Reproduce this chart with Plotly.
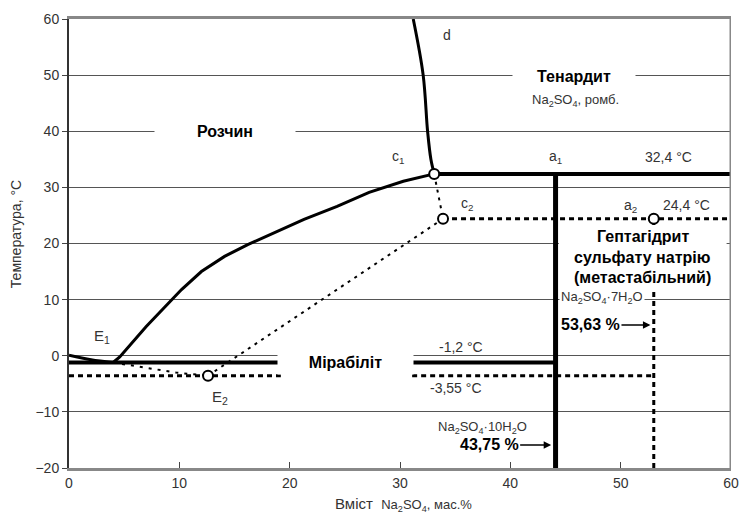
import plotly.graph_objects as go

# ---------------- data ----------------
# ice crystallisation curve (0 % -> eutectic E1)
ice_x = [0.0, 2.0, 4.0]
ice_t = [0.1, -0.7, -1.2]

# mirabilite (Na2SO4*10H2O) solubility curve, E1 -> c1
mir_x = [4.0, 4.6, 7.0, 9.3, 10.2, 12.0, 14.1, 16.2, 18.3, 21.3, 24.3, 27.2, 30.3, 33.1]
mir_t = [-1.2, -0.2, 5.2, 10.0, 11.8, 15.0, 17.7, 19.8, 21.6, 24.3, 26.6, 29.1, 31.1, 32.4]

# thenardite solubility curve, c1 -> d
then_x = [33.1, 32.8, 32.5, 32.1, 31.2]
then_t = [32.4, 35.0, 40.0, 50.0, 60.0]

# metastable ice curve E1 -> E2
meta_ice_x = [4.0, 6.4, 9.7, 12.6]
meta_ice_t = [-1.2, -2.0, -3.0, -3.55]

# key temperatures and compositions
T_c1 = 32.4      # transition mirabilite -> thenardite
T_c2 = 24.4      # metastable heptahydrate transition
T_E1 = -1.2      # eutectic E1
T_E2 = -3.55     # metastable eutectic E2
x_c1, x_c2 = 33.1, 33.9
x_E2 = 12.6
x_deca = 44.1    # Na2SO4*10H2O
x_hepta = 53.0   # Na2SO4*7H2O
gap_l, gap_r = 19.2, 31.1   # break of the lines around the "Мірабіліт" label
x_max, t_min = 60.0, -20.0

x_ticks = [0, 10, 20, 30, 40, 50, 60]
y_ticks = [-20, -10, 0, 10, 20, 30, 40, 50, 60]

# ---------------- figure ----------------
fig = go.Figure()
BLK = "black"

def line(x, y, width, dash="solid", color=BLK, shape="linear"):
    fig.add_trace(go.Scatter(x=x, y=y, mode="lines", showlegend=False, hoverinfo="skip",
                             line=dict(color=color, width=width, dash=dash, shape=shape)))

# solid phase-boundary curves
line(ice_x, ice_t, 3, shape="spline")
line(mir_x, mir_t, 3)
line(then_x, then_t, 3, shape="spline")
line([x_c1, x_max], [T_c1, T_c1], 4)
line([x_deca, x_deca], [t_min, T_c1], 5)
line([0, gap_l, None, gap_r, x_deca], [T_E1, T_E1, None, T_E1, T_E1], 4)

# metastable (dotted) lines
line([0, gap_l, None, gap_r, x_hepta], [T_E2, T_E2, None, T_E2, T_E2], 3, "5px,4px")
line([x_c2, x_max], [T_c2, T_c2], 3, "5px,4px")
line([x_hepta, x_hepta], [t_min, T_c2], 3, "5px,4px")
line(meta_ice_x, meta_ice_t, 2, "3px,6px")
line([x_E2, x_c2], [T_E2, T_c2], 2, "3px,5px")
line([x_c1, x_c2], [T_c1, T_c2], 2, "3px,5px")

# points
fig.add_trace(go.Scatter(x=[x_c1, x_c2, x_E2, x_hepta], y=[T_c1, T_c2, T_E2, T_c2],
                         mode="markers", showlegend=False, hoverinfo="skip",
                         marker=dict(symbol="circle", size=10, color="white",
                                     line=dict(color=BLK, width=2))))

# right border
fig.add_shape(type="line", xref="x", yref="paper", x0=60, x1=60, y0=0, y1=1,
              line=dict(color="#888", width=3), layer="above")

# white box behind the heptahydrate label
fig.add_shape(type="rect", xref="x", yref="y", x0=44.4, x1=59.6, y0=11.9, y1=23.1,
              fillcolor="white", line=dict(width=0), layer="above")

FONT = "Liberation Sans, Arial, sans-serif"
ann = []

def txt(x, y, s, size=13, bold=False, color="#333", **kw):
    if bold:
        s = "<b>" + s + "</b>"
    d = dict(x=x, y=y, xref="x", yref="y", text=s, showarrow=False,
             font=dict(family=FONT, size=size, color=color))
    d.update(kw)
    ann.append(d)

txt(14.1, 40.0, "Розчин", 16, True, "black", bgcolor="white", width=138, height=18)
txt(45.75, 49.9, "Тенардит", 16, True, "black", bgcolor="white", width=120, height=18)
txt(45.9, 45.4, "Na<sub>2</sub>SO<sub>4</sub>, ромб.", 13)
txt(25.1, -1.1, "Мірабіліт", 16, True, "black", bgcolor="white", width=133, height=22)
txt(34.3, 57.1, "d", 14)
txt(29.8, 35.4, "c<sub>1</sub>", 14)
txt(44.1, 35.5, "a<sub>1</sub>", 14)
txt(54.3, 35.5, "32,4 °C", 14)
txt(36.1, 27.0, "c<sub>2</sub>", 14)
txt(50.9, 26.7, "a<sub>2</sub>", 14)
txt(56.0, 26.8, "24,4 °C", 14)
txt(52.0, 21.25, "Гептагідрит", 16, True, "black")
txt(52.0, 17.5, "сульфату натрію", 16, True, "black")
txt(52.0, 13.9, "(метастабільний)", 16, True, "black")
txt(44.4, 10.3, "Na<sub>2</sub>SO<sub>4</sub>·7H<sub>2</sub>O", 13, xanchor="left",
    bgcolor="white", height=15)
txt(3.0, 3.4, "E<sub>1</sub>", 15)
txt(13.7, -7.5, "E<sub>2</sub>", 15)
txt(35.5, 1.6, "-1,2 °C", 14)
txt(35.1, -5.7, "-3,55 °C", 14)
txt(37.5, -12.7, "Na<sub>2</sub>SO<sub>4</sub>·10H<sub>2</sub>O", 13)

# arrows with percentages
ann.append(dict(x=52.7, y=5.5, xref="x", yref="y", text="<b>53,63 %</b>",
                showarrow=True, arrowhead=2, arrowsize=1, arrowwidth=1.5, arrowcolor=BLK,
                ax=-60, ay=0, standoff=0, font=dict(family=FONT, size=16, color="black")))
ann.append(dict(x=43.7, y=-15.9, xref="x", yref="y", text="<b>43,75 %</b>",
                showarrow=True, arrowhead=2, arrowsize=1, arrowwidth=1.5, arrowcolor=BLK,
                ax=-62, ay=0, standoff=0, font=dict(family=FONT, size=16, color="black")))

# axis titles
ann.append(dict(x=-0.0806, y=0.52, xref="paper", yref="paper", textangle=-90,
                xanchor="center", yanchor="middle",
                text="Температура, °C", showarrow=False,
                font=dict(family=FONT, size=14, color="#333")))
ann.append(dict(x=0.506, y=-0.082, xref="paper", yref="paper",
                xanchor="center", yanchor="middle",
                text="Вміст  <span style='font-size:13px'>Na<sub>2</sub>SO<sub>4</sub>, мас.%</span>",
                showarrow=False, font=dict(family=FONT, size=15, color="#333")))

fig.update_layout(
    width=748, height=516,
    margin=dict(l=69, r=9, t=19, b=48),
    paper_bgcolor="white", plot_bgcolor="white",
    font=dict(family=FONT, size=13, color="#333"),
    annotations=ann,
    xaxis=dict(range=[0, x_max], tickvals=x_ticks, showgrid=False, zeroline=False,
               showline=True, linecolor="#888", linewidth=3, mirror=True,
               ticks="inside", ticklen=6, tickcolor="#444", tickwidth=1,
               tickfont=dict(family=FONT, size=14, color="#333")),
    yaxis=dict(range=[t_min, 60], tickvals=y_ticks, showgrid=True, gridcolor="#555",
               gridwidth=1, zeroline=False, showline=True, linecolor="#333", linewidth=2,
               ticks="outside", ticklen=5, tickcolor="#444",
               tickfont=dict(family=FONT, size=14, color="#333")),
)

fig.write_html("out.html", post_script="document.body.style.margin='0';",
               config={"displayModeBar": False})
